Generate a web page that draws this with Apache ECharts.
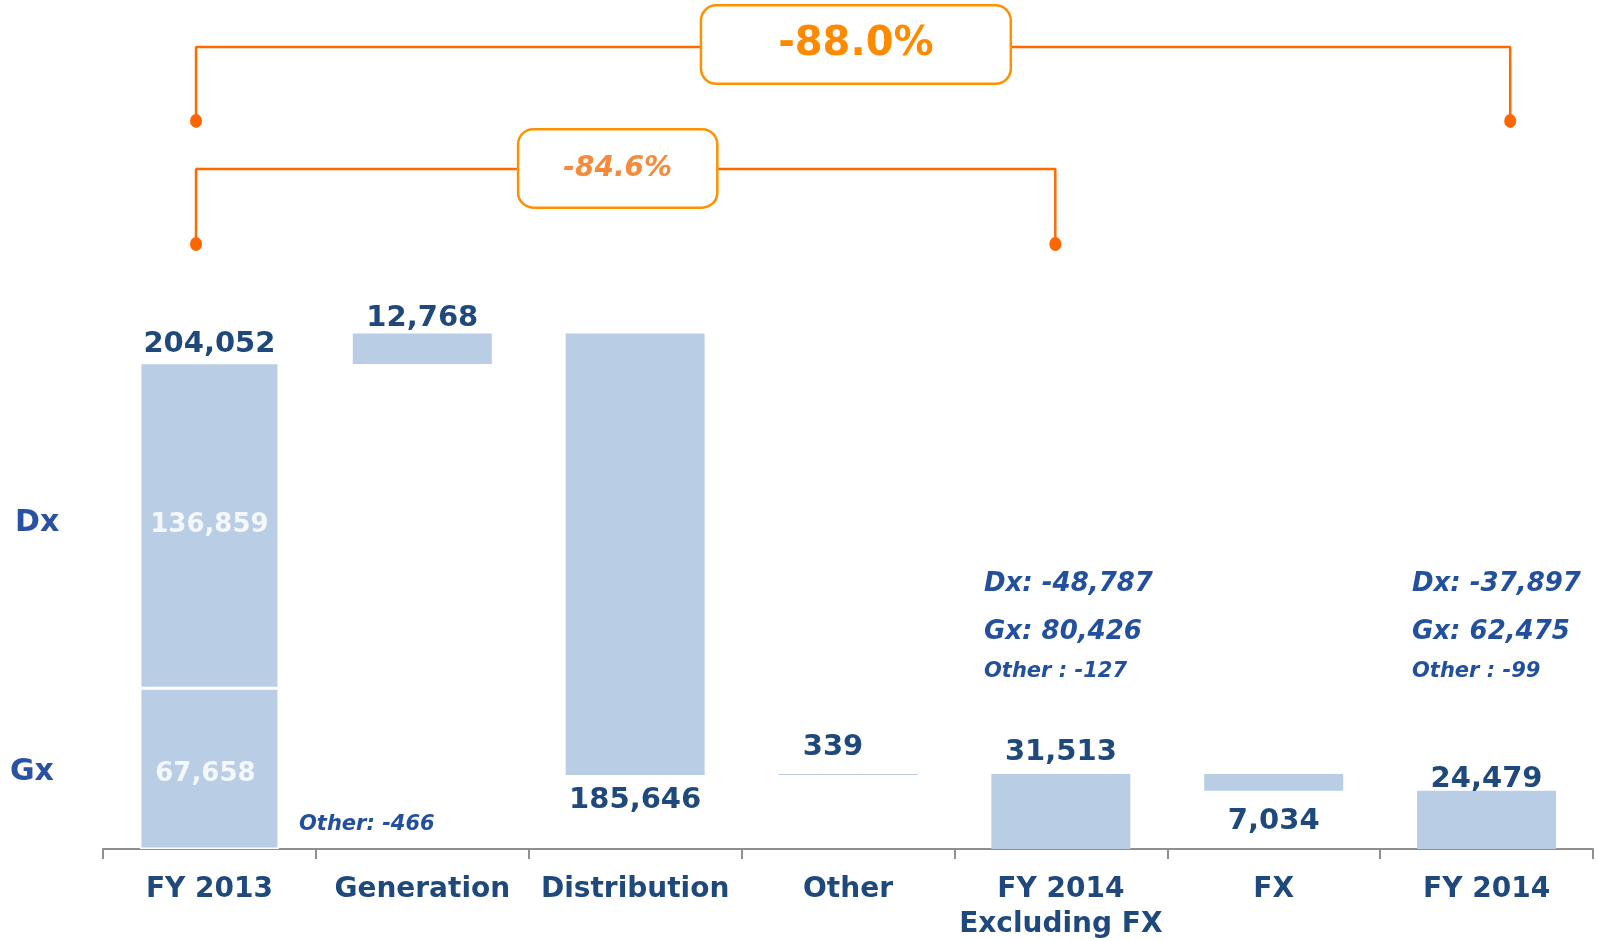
<!DOCTYPE html>
<html>
<head>
<meta charset="utf-8">
<script src="https://cdn.jsdelivr.net/npm/echarts@6/dist/echarts.min.js"></script>
<style>
  html, body { margin: 0; padding: 0; background: #fff; }
  #chart { width: 1598px; height: 941px; }
</style>
</head>
<body>
<div id="chart"></div>
<script>
// waterfall data
const categories = ['FY 2013', 'Generation', 'Distribution', 'Other', 'FY 2014\nExcluding FX', 'FX', 'FY 2014'];
const startGx = 67658;
const startDx = 136859;
const changes = [null, 12768, -185646, 339, null, -7034, null];
const subtotals = [204052, null, null, null, 31513, null, 24479];
const pctChanges = ['-88.0%', '-84.6%'];
const segmentNames = ['Dx', 'Gx'];
const fy2013Note = 'Other: -466';
const fy2014ExNotes = ['Dx: -48,787', 'Gx: 80,426', 'Other : -127'];
const fy2014Notes = ['Dx: -37,897', 'Gx: 62,475', 'Other : -99'];

const BAR = '#B9CDE5';
const NAVY = '#1F497D';
const BLUE = '#23509E';
const FONT = '"DejaVu Sans", Verdana, sans-serif';

// invisible base + visible step for each category
const base = [];
const steps = [];
let running = 0;
categories.forEach((c, i) => {
    if (subtotals[i] != null) {
        running = subtotals[i];
        base.push('-');
        steps.push(i === 0 ? 0 : subtotals[i]); // FY 2013 is drawn by the Gx/Dx stack
    } else {
        const d = changes[i];
        if (d >= 0) {
            base.push(running);
            running += d;
        } else {
            running += d;
            base.push(running);
        }
        steps.push(Math.abs(d));
    }
});

const fmt = v => v.toLocaleString('en-US');

const labelPlace = [
    { position: 'top', distance: 4 },
    { position: 'top', distance: 1 },
    { position: 'bottom', distance: 11 },
    { position: 'top', distance: 12, offset: [-15, 0] },
    { position: 'top', distance: 7 },
    { position: 'bottom', distance: 16 },
    { position: 'top', distance: -3 }
];

const stepData = steps.map((v, i) => ({
    value: v,
    label: Object.assign({
        formatter: () => fmt(i === 0 ? subtotals[0] : v)
    }, labelPlace[i])
}));

const onlyFirst = v => categories.map((c, i) => (i === 0 ? v : '-'));

// brackets on a hidden value axis (0..7 across the categories)
function bracket(x0, x1, yLine, yDot) {
    return [
        { value: [x0, yDot], symbol: 'circle' },
        { value: [x0, yLine], symbol: 'none' },
        { value: [x1, yLine], symbol: 'none' },
        { value: [x1, yDot], symbol: 'circle' }
    ];
}

const bracketLine = {
    type: 'line',
    xAxisIndex: 1,
    silent: true,
    showSymbol: true,
    symbolSize: [12, 14],
    lineStyle: { color: '#FF6A00', width: 2.5 },
    itemStyle: { color: '#FF6600' },
    z: 3
};

function noteText(text, x, y, size, italic, color) {
    return {
        type: 'text',
        x: x,
        y: y,
        style: {
            text: text,
            fill: color,
            font: (italic ? 'italic ' : '') + 'bold ' + size + 'px ' + FONT,
            verticalAlign: 'middle'
        }
    };
}

const boxLabel = {
    show: true,
    position: 'inside',
    opacity: 1,
    fontFamily: FONT,
    fontWeight: 'bold',
    backgroundColor: '#fff',
    borderColor: '#FF9100',
    borderWidth: 2.5,
    borderRadius: 14
};

const chart = echarts.init(document.getElementById('chart'));

chart.setOption({
    animation: false,
    grid: { left: 103, right: 5, top: 17, bottom: 92, outerBoundsMode: 'none', containLabel: false },
    xAxis: [
        {
            type: 'category',
            data: categories,
            axisLine: { lineStyle: { color: '#8F8F8F', width: 2 } },
            axisTick: { show: true, length: 10, lineStyle: { color: '#8F8F8F', width: 2 } },
            axisLabel: {
                interval: 0,
                margin: 23,
                color: NAVY,
                fontFamily: FONT,
                fontWeight: 'bold',
                fontSize: 28,
                lineHeight: 35
            }
        },
        { type: 'value', min: 0, max: 7, show: false }
    ],
    yAxis: { type: 'value', min: 0, max: 350000, show: false },
    series: [
        {
            name: 'base',
            type: 'bar',
            stack: 'wf',
            barWidth: 139,
            silent: true,
            itemStyle: { color: 'transparent' },
            data: base
        },
        {
            name: 'Gx',
            type: 'bar',
            stack: 'wf',
            barWidth: 139,
            itemStyle: { color: BAR, borderColor: '#fff', borderWidth: 1.5 },
            label: {
                show: true, position: 'inside', formatter: p => fmt(p.value),
                color: '#F4F7FB', fontFamily: FONT, fontWeight: 'bold', fontSize: 26, offset: [-4, 6]
            },
            data: onlyFirst(startGx)
        },
        {
            name: 'Dx',
            type: 'bar',
            stack: 'wf',
            barWidth: 139,
            itemStyle: { color: BAR, borderColor: '#fff', borderWidth: 1.5 },
            label: {
                show: true, position: 'inside', formatter: p => fmt(p.value),
                color: '#F4F7FB', fontFamily: FONT, fontWeight: 'bold', fontSize: 26
            },
            data: onlyFirst(startDx)
        },
        {
            name: 'step',
            type: 'bar',
            stack: 'wf',
            barWidth: 139,
            itemStyle: { color: BAR },
            label: {
                show: true, color: NAVY, fontFamily: FONT, fontWeight: 'bold', fontSize: 29
            },
            data: stepData
        },
        Object.assign({ data: bracket(0.437, 6.611, 337400, 306300) }, bracketLine),
        Object.assign({ data: bracket(0.437, 4.474, 286100, 254500) }, bracketLine),
        {
            type: 'scatter',
            xAxisIndex: 1,
            silent: true,
            symbolSize: 1,
            itemStyle: { color: '#fff', opacity: 1 },
            z: 6,
            data: [
                {
                    value: [3.537, 338400],
                    label: Object.assign({}, boxLabel, {
                        formatter: pctChanges[0], color: '#FF8A00', fontSize: 40, padding: [20, 76, 16, 76]
                    })
                },
                {
                    value: [2.418, 286300],
                    label: Object.assign({}, boxLabel, {
                        formatter: pctChanges[1], color: '#F7893B', fontSize: 28,
                        fontStyle: 'italic', padding: [25, 44, 23, 44]
                    })
                }
            ]
        }
    ],
    graphic: [
        noteText(segmentNames[0], 15, 523, 30, false, '#2952A3'),
        noteText(segmentNames[1], 10, 772, 30, false, '#2952A3'),
        noteText(fy2013Note, 299, 825, 21, true, BLUE),
        noteText(fy2014ExNotes[0], 984, 584, 26, true, BLUE),
        noteText(fy2014ExNotes[1], 984, 632, 26, true, BLUE),
        noteText(fy2014ExNotes[2], 984, 672, 21, true, BLUE),
        noteText(fy2014Notes[0], 1412, 584, 26, true, BLUE),
        noteText(fy2014Notes[1], 1412, 632, 26, true, BLUE),
        noteText(fy2014Notes[2], 1412, 672, 21, true, BLUE)
    ]
});
</script>
</body>
</html>
